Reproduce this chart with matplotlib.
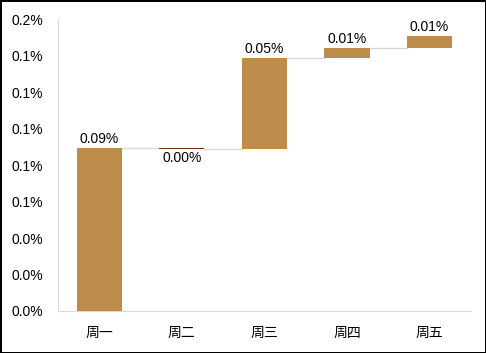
import matplotlib.pyplot as plt

plt.rcParams['font.family'] = ['Liberation Sans', 'Noto Sans CJK SC', 'DejaVu Sans']

days = ["周一", "周二", "周三", "周四", "周五"]
changes = [0.0895, -0.0007, 0.0500, 0.0055, 0.0065]   # daily change, %
yticks = [0.00, 0.02, 0.04, 0.06, 0.08, 0.10, 0.12, 0.14, 0.16]

up_color = "#BE8C4A"
down_color = "#7B2B12"
line_color = "#D9D9D9"

fig = plt.figure(figsize=(4.86, 3.53), dpi=100)
fig.patch.set_edgecolor("black")
fig.patch.set_linewidth(2)
ax = fig.add_axes([0.119, 0.119, 0.850, 0.827])

x = range(len(days))
width = 0.545
level = 0.0
tops = []
for i, v in enumerate(changes):
    color = up_color if v >= 0 else down_color
    ax.bar(i, v, bottom=level, width=width, color=color, zorder=3)
    new_level = level + v
    label = f"{abs(v):.2f}%"
    if v >= 0:
        ax.annotate(label, (i, new_level), xytext=(0, 1.5), textcoords="offset points",
                    ha="center", va="bottom", fontsize=10)
    else:
        ax.annotate(label, (i, new_level), xytext=(0, -1.5), textcoords="offset points",
                    ha="center", va="top", fontsize=10)
    tops.append(new_level)
    level = new_level

# connector lines between bars
for i in range(len(days) - 1):
    ax.plot([i + width / 2, i + 1 - width / 2], [tops[i], tops[i]],
            color=line_color, lw=1, zorder=2)

ax.set_xlim(-0.5, len(days) - 0.5)
ax.set_ylim(0, 0.16)
ax.set_xticks(list(x))
ax.set_xticklabels(days, fontsize=10, family=['Noto Sans CJK SC', 'DejaVu Sans'])
ax.set_yticks(yticks)
ax.set_yticklabels([f"{t:.1f}%" for t in yticks], fontsize=10)
ax.tick_params(length=0, pad=10.5, axis="y")
ax.tick_params(length=0, pad=11, axis="x")

for s in ["top", "right"]:
    ax.spines[s].set_visible(False)
ax.spines["left"].set_color(line_color)
ax.spines["bottom"].set_color(line_color)

fig.savefig("out.png", dpi=100)
